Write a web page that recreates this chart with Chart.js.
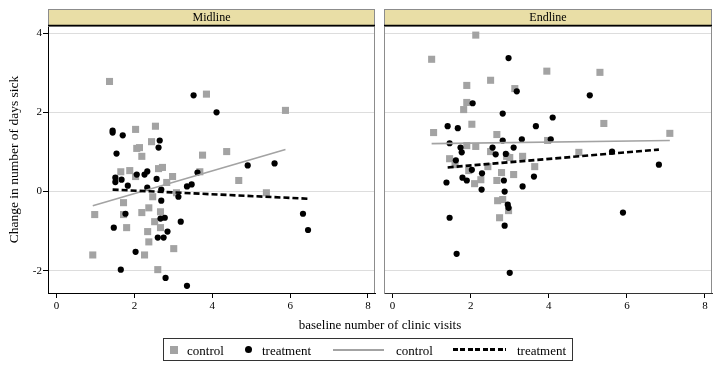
<!DOCTYPE html>
<html>
<head>
<meta charset="utf-8">
<script src="https://cdn.jsdelivr.net/npm/chart.js@4.4.1/dist/chart.umd.min.js"></script>
<style>
  html, body { margin: 0; padding: 0; background: #fff; }
  #wrap { position: relative; width: 728px; height: 371px; overflow: hidden; font-family: "Liberation Serif", "Times New Roman", serif; color: #000; }
  canvas { position: absolute; left: 0; top: 0; }
  .t { position: absolute; white-space: nowrap; font-size: 13px; line-height: 13px; }
  #legend { position: absolute; left: 163px; top: 338px; width: 410px; height: 23px; border: 1px solid #333; box-sizing: border-box; }
  .mk { position: absolute; }
</style>
</head>
<body>
<div id="wrap">
  <canvas id="c1" width="728" height="371"></canvas>
  <canvas id="c2" width="728" height="371"></canvas>
  <div class="t" id="xtitle" style="left:380px; top:318px; transform:translateX(-50%);">baseline number of clinic visits</div>
  <div id="legend">
    <div class="mk" style="left:6px; top:7px; width:8px; height:8px; background:#a3a3a3;"></div>
    <div class="t" style="left:23px; top:5px;">control</div>
    <div class="mk" style="left:81px; top:7px; width:7px; height:7px; border-radius:50%; background:#000;"></div>
    <div class="t" style="left:98px; top:5px;">treatment</div>
    <div class="mk" style="left:169px; top:10px; width:51px; height:2px; background:#a3a3a3;"></div>
    <div class="t" style="left:232px; top:5px;">control</div>
    <div class="mk" style="left:289px; top:9px; width:53px; height:3px; background:repeating-linear-gradient(90deg,#000 0 5px,transparent 5px 7.5px);"></div>
    <div class="t" style="left:353px; top:5px;">treatment</div>
  </div>
</div>
<script>
// ---------------- data ----------------
const panelTitles = ["Midline", "Endline"];
const xTickValues = [0, 2, 4, 6, 8];
const yTickValues = [-2, 0, 2, 4];
const seriesNames = ["control", "treatment"];

const midControlX = [1.36,3.85,5.88,2.03,2.54,2.06,2.13,2.44,2.19,3.75,4.37,1.65,1.88,2.62,2.72,2.98,3.68,4.68,2.03,2.83,5.39,3.08,2.47,1.72,0.98,1.72,2.19,2.37,2.67,2.52,2.67,1.80,2.34,2.37,3.01,0.93,2.26,2.60];
const midControlY = [2.78,2.46,2.05,1.57,1.65,1.09,1.11,1.26,0.89,0.92,1.01,0.50,0.53,0.58,0.61,0.38,0.50,0.28,0.38,0.23,-0.03,-0.03,-0.13,-0.28,-0.58,-0.58,-0.53,-0.41,-0.51,-0.76,-0.91,-0.91,-1.01,-1.27,-1.44,-1.60,-1.60,-1.97];

const midTreatX = [3.52,4.11,1.44,1.44,1.70,1.54,2.65,2.62,4.91,5.60,3.62,2.06,2.26,2.33,1.51,1.67,2.57,1.51,1.83,2.33,3.35,3.47,2.69,3.13,2.69,1.77,6.33,6.46,2.67,2.78,3.19,1.47,2.85,2.60,2.75,2.03,1.65,2.80,3.35];
const midTreatY = [2.43,2.00,1.54,1.49,1.42,0.96,1.29,1.11,0.66,0.71,0.48,0.43,0.43,0.51,0.35,0.30,0.32,0.24,0.15,0.10,0.13,0.18,0.05,-0.13,-0.23,-0.56,-0.56,-0.97,-0.68,-0.66,-0.76,-0.91,-1.01,-1.16,-1.16,-1.52,-1.97,-2.18,-2.38];

const endControlX = [2.13,1.00,3.95,5.31,1.90,2.51,3.13,1.90,1.82,2.03,1.05,2.67,5.41,7.10,1.90,2.13,3.97,2.51,1.46,2.92,3.00,3.33,4.77,3.64,1.60,2.79,3.10,2.44,1.95,2.10,2.26,2.67,2.69,2.82,2.97,2.74];
const endControlY = [3.95,3.34,3.04,3.01,2.68,2.81,2.60,2.25,2.07,1.70,1.49,1.44,1.72,1.47,1.16,1.14,1.29,1.01,0.83,0.89,0.86,0.89,0.99,0.63,0.68,0.48,0.43,0.63,0.53,0.20,0.30,0.28,-0.23,-0.20,-0.48,-0.66];

const endTreatX = [2.97,3.18,5.05,2.05,2.82,4.10,1.41,1.67,3.67,2.82,3.31,4.05,1.46,1.74,1.77,2.56,2.64,2.90,3.10,5.62,6.82,1.62,2.03,2.29,3.62,1.79,1.90,1.38,2.28,2.85,2.87,3.33,2.95,2.97,1.46,2.87,5.90,1.64,3.00];
const endTreatY = [3.37,2.53,2.43,2.23,1.97,1.87,1.65,1.60,1.65,1.29,1.32,1.32,1.22,1.11,0.99,1.11,0.94,0.95,1.11,1.01,0.68,0.79,0.55,0.46,0.38,0.35,0.28,0.23,0.05,0.28,0.00,0.13,-0.33,-0.41,-0.66,-0.86,-0.53,-1.57,-2.05];

// fitted lines (end points)
const midControlFitX = [0.93, 5.88];
const midControlFitY = [-0.36, 1.06];
const midTreatFitX = [1.44, 6.46];
const midTreatFitY = [0.05, -0.18];
const endControlFitX = [1.00, 7.10];
const endControlFitY = [1.21, 1.29];
const endTreatFitX = [1.41, 6.82];
const endTreatFitY = [0.61, 1.06];

// ---------------- helpers ----------------
const FONT = '"Liberation Serif", "Times New Roman", serif';
const GRAY = '#a3a3a3';
const pts = (xs, ys) => xs.map((x, i) => ({ x: x, y: ys[i] }));

function makeDatasets(cx, cy, tx, ty, cfx, cfy, tfx, tfy) {
  return [
    { type: 'scatter', label: seriesNames[0], data: pts(cx, cy), pointStyle: 'rect', pointRadius: 5.0,
      backgroundColor: GRAY, borderWidth: 0, order: 4 },
    { type: 'scatter', label: seriesNames[1], data: pts(tx, ty), pointStyle: 'circle', pointRadius: 3.1,
      backgroundColor: '#000', borderWidth: 0, order: 3 },
    { type: 'line', label: seriesNames[0], data: pts(cfx, cfy), borderColor: GRAY, borderWidth: 1.6,
      pointRadius: 0, fill: false, tension: 0, order: 2 },
    { type: 'line', label: seriesNames[1], data: pts(tfx, tfy), borderColor: '#000', borderWidth: 2.6,
      borderDash: [6, 3], pointRadius: 0, fill: false, tension: 0, order: 1 }
  ];
}

const stripPlugin = {
  id: 'strip',
  afterDraw(chart, args, opts) {
    const { ctx, chartArea: a } = chart;
    ctx.save();
    ctx.strokeStyle = '#8c8c8c';
    ctx.lineWidth = 1;
    ctx.beginPath();
    ctx.moveTo(a.right - 0.5, a.top);
    ctx.lineTo(a.right - 0.5, a.bottom);
    ctx.stroke();
    const h = 17;
    ctx.fillStyle = '#e9dea6';
    ctx.fillRect(a.left, a.top - h, a.right - a.left, h);
    ctx.strokeStyle = '#8c8c8c';
    ctx.strokeRect(a.left + 0.5, a.top - h + 0.5, a.right - a.left - 1, h);
    ctx.strokeStyle = '#000';
    ctx.lineWidth = 1.6;
    ctx.beginPath();
    ctx.moveTo(a.left, a.top - 0.5);
    ctx.lineTo(a.right, a.top - 0.5);
    ctx.stroke();
    ctx.fillStyle = '#000';
    ctx.font = '12px ' + FONT;
    ctx.textAlign = 'center';
    ctx.textBaseline = 'middle';
    ctx.fillText(opts.text, (a.left + a.right) / 2, a.top - h / 2);
    ctx.restore();
  }
};

function makeChart(id, title, datasets, isLeft) {
  const padLeft = isLeft ? 0 : 384;
  const padRight = isLeft ? 728 - 375 : 728 - 712;
  return new Chart(document.getElementById(id), {
    data: { datasets: datasets },
    plugins: [stripPlugin],
    options: {
      responsive: false, animation: false, devicePixelRatio: 1,
      layout: { padding: { left: padLeft, right: padRight, top: 26, bottom: 48 } },
      plugins: { legend: { display: false }, tooltip: { enabled: false }, strip: { text: title } },
      scales: {
        x: {
          type: 'linear', position: 'bottom', min: -0.22, max: 8.18,
          afterBuildTicks: s => { s.ticks = xTickValues.map(v => ({ value: v })); },
          afterFit: s => { s.height = 30; },
          ticks: { color: '#000', font: { family: FONT, size: 11 }, padding: 2, maxRotation: 0 },
          grid: { drawOnChartArea: false, drawTicks: true, tickLength: 5, tickColor: '#000' },
          border: { display: true, color: isLeft ? '#000' : '#333', width: 1 }
        },
        y: {
          type: 'linear', position: 'left', min: -2.56, max: 4.18,
          afterBuildTicks: s => { s.ticks = yTickValues.map(v => ({ value: v })); },
          afterFit: s => { s.width = isLeft ? 48 : 0; },
          ticks: { display: isLeft, color: '#000', font: { family: FONT, size: 11 }, padding: 1 },
          grid: { color: '#dddddd', lineWidth: 1, drawTicks: isLeft, tickLength: 5, tickColor: '#000' },
          border: { display: true, color: isLeft ? '#000' : '#8c8c8c', width: 1 },
          title: { display: isLeft, text: 'Change in number of days sick', color: '#000',
                   font: { family: FONT, size: 13.5 }, padding: { top: 6, bottom: 0 } }
        }
      }
    }
  });
}

makeChart('c1', panelTitles[0],
  makeDatasets(midControlX, midControlY, midTreatX, midTreatY, midControlFitX, midControlFitY, midTreatFitX, midTreatFitY), true);
makeChart('c2', panelTitles[1],
  makeDatasets(endControlX, endControlY, endTreatX, endTreatY, endControlFitX, endControlFitY, endTreatFitX, endTreatFitY), false);
</script>
</body>
</html>
